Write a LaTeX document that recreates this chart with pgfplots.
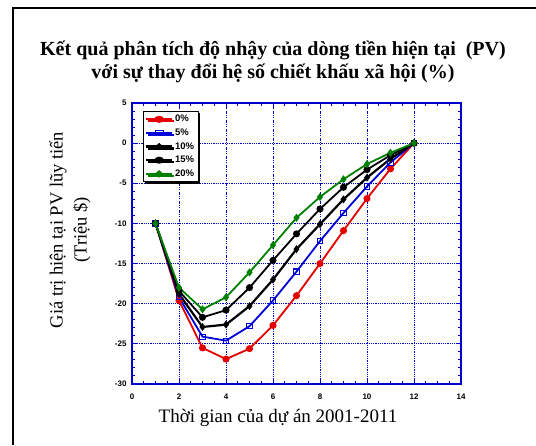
\documentclass[border=0pt]{standalone}
\usepackage{fontspec}
\setmainfont{Liberation Serif}
\setsansfont{Liberation Sans}
\usepackage{pgfplots}
\pgfplotsset{compat=1.18}
\usetikzlibrary{shadows}
\definecolor{axblue}{rgb}{0,0,0.8}
\definecolor{cred}{rgb}{0.9,0,0}
\definecolor{cblue}{rgb}{0,0,0.85}
\definecolor{cgreen}{rgb}{0,0.5,0}
\pgfplotstableread{
x p0 p5 p10 p15 p20
1 -10 -10 -10 -10 -10
2 -19.6 -19.2 -18.8 -18.4 -18.0
3 -25.5 -24.1 -22.9 -21.7 -20.7
4 -26.9 -24.6 -22.6 -20.8 -19.2
5 -25.6 -22.8 -20.3 -18.0 -16.1
6 -22.7 -19.6 -17.0 -14.6 -12.7
7 -19.0 -16.0 -13.2 -11.3 -9.3
8 -15.0 -12.2 -10.1 -8.2 -6.7
9 -10.9 -8.7 -7.0 -5.5 -4.5
10 -6.9 -5.4 -4.3 -3.3 -2.6
11 -3.2 -2.4 -1.95 -1.5 -1.2
12 0 0 0 0 0
}\datatable
\begin{document}
\begin{tikzpicture}
\useasboundingbox (0pt,0pt) rectangle (536pt,445pt);
\draw[line width=1.5pt] (13pt,0pt) -- (13pt,437pt) -- (536pt,437pt);
\node[font=\bfseries\fontsize{20}{23}\selectfont, align=center] at (273pt,383pt)
  {Kết quả phân tích độ nhậy của dòng tiền hiện tại\ \ (PV)\\với sự thay đổi hệ số chiết khấu xã hội (\%)};
\node[font=\fontsize{19}{22}\selectfont] at (278pt,27pt) {Thời gian của dự án 2001-2011};
\node[font=\fontsize{18.5}{24}\selectfont, rotate=90, align=center] at (70pt,215pt) {Giá trị hiện tại PV lũy tiến\\(Triệu \$)};
\begin{axis}[
  at={(132pt,61pt)}, anchor=south west,
  scale only axis, width=329pt, height=281pt,
  xmin=0, xmax=14, ymin=-30, ymax=5,
  xtick={0,2,...,14}, ytick={-30,-25,...,5},
  minor x tick num=3, minor y tick num=4,
  tick align=inside, tick pos=both,
  major tick length=5pt, minor tick length=3pt,
  axis line style={axblue, line width=1.5pt},
  every tick/.style={axblue, line width=1pt},
  grid=major,
  major grid style={axblue, dash pattern=on 1.5pt off 1.2pt on 0.6pt off 1.2pt, line width=0.8pt},
  ticklabel style={font=\sffamily\bfseries\fontsize{8}{9}\selectfont, text=black},
  /pgf/number format/assume math mode=true,
  xticklabel style={yshift=-6pt},
  yticklabel style={xshift=-2pt},
  legend style={at={(0.033,0.972)}, anchor=north west, draw=black, line width=0.8pt,
    fill=white, font=\sffamily\bfseries\fontsize{9.5}{10}\selectfont,
    drop shadow={shadow xshift=2pt, shadow yshift=-2pt, opacity=1, fill=black},
    inner sep=2pt, row sep=1.5pt},
  legend cell align=left,
  legend image post style={xscale=1.5},
]
\addplot[cred, line width=1.8pt, mark=*, mark size=2.6pt, mark options={solid}] table[x=x,y=p0] {\datatable};
\addplot[cblue, line width=1.8pt, mark=square, mark size=2.6pt, mark options={solid, line width=1pt}] table[x=x,y=p5] {\datatable};
\addplot[black, line width=2.2pt, mark=diamond*, mark size=2.2pt, mark options={solid}] table[x=x,y=p10] {\datatable};
\addplot[black, line width=1.8pt, mark=*, mark size=2.6pt, mark options={solid}] table[x=x,y=p15] {\datatable};
\addplot[cgreen, line width=1.8pt, mark=diamond*, mark size=2.6pt, mark options={solid}] table[x=x,y=p20] {\datatable};
\legend{0\%,5\%,10\%,15\%,20\%}
\end{axis}
\end{tikzpicture}
\end{document}
